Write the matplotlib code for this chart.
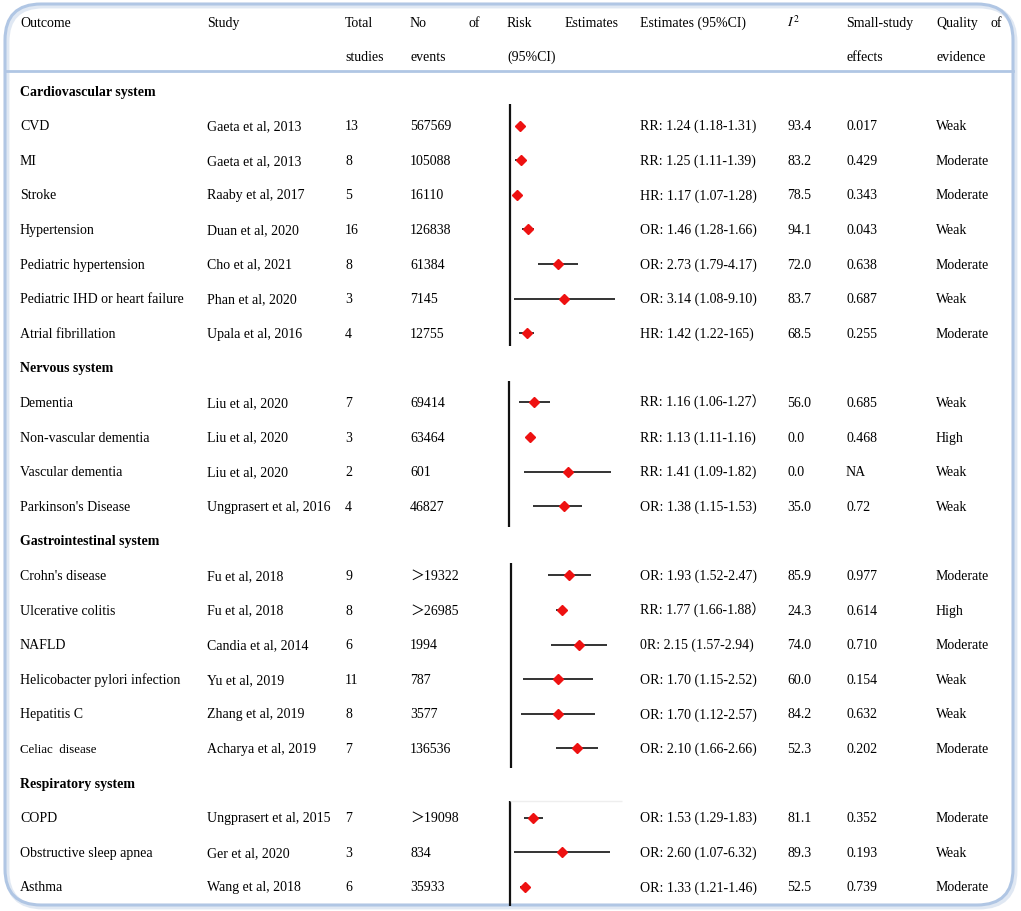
import numpy as np
import matplotlib
matplotlib.use('Agg')
import matplotlib.pyplot as plt
from matplotlib.patches import FancyBboxPatch

W, H = 1021, 911
SERIF = ['Liberation Serif', 'Noto Sans CJK SC', 'DejaVu Serif']
plt.rcParams['font.family'] = SERIF
plt.rcParams['font.size'] = 10

# ---- data ----
sections = ['Cardiovascular system', 'Nervous system',
            'Gastrointestinal system', 'Respiratory system']
section_sizes = [7, 4, 6, 3]

outcomes = ['CVD', 'MI', 'Stroke', 'Hypertension', 'Pediatric hypertension',
            'Pediatric IHD or heart failure', 'Atrial fibrillation',
            'Dementia', 'Non-vascular dementia', 'Vascular dementia',
            "Parkinson's Disease",
            "Crohn's disease", 'Ulcerative colitis', 'NAFLD',
            'Helicobacter pylori infection', 'Hepatitis C', 'Celiac  disease',
            'COPD', 'Obstructive sleep apnea', 'Asthma']
studies = ['Gaeta et al, 2013', 'Gaeta et al, 2013', 'Raaby et al, 2017',
           'Duan et al, 2020', 'Cho et al, 2021', 'Phan et al, 2020',
           'Upala et al, 2016',
           'Liu et al, 2020', 'Liu et al, 2020', 'Liu et al, 2020',
           'Ungprasert et al, 2016',
           'Fu et al, 2018', 'Fu et al, 2018', 'Candia et al, 2014',
           'Yu et al, 2019', 'Zhang et al, 2019', 'Acharya et al, 2019',
           'Ungprasert et al, 2015', 'Ger et al, 2020', 'Wang et al, 2018']
total_studies = ['13', '8', '5', '16', '8', '3', '4',
                 '7', '3', '2', '4',
                 '9', '8', '6', '11', '8', '7',
                 '7', '3', '6']
n_events = ['567569', '105088', '16110', '126838', '61384', '7145', '12755',
            '69414', '63464', '601', '46827',
            '＞19322', '＞26985', '1994', '787', '3577', '136536',
            '＞19098', '834', '35933']
est_text = ['RR: 1.24 (1.18-1.31)', 'RR: 1.25 (1.11-1.39)',
            'HR: 1.17 (1.07-1.28)', 'OR: 1.46 (1.28-1.66)',
            'OR: 2.73 (1.79-4.17)', 'OR: 3.14 (1.08-9.10)',
            'HR: 1.42 (1.22-165)',
            'RR: 1.16 (1.06-1.27）', 'RR: 1.13 (1.11-1.16)',
            'RR: 1.41 (1.09-1.82)', 'OR: 1.38 (1.15-1.53)',
            'OR: 1.93 (1.52-2.47)', 'RR: 1.77 (1.66-1.88）',
            '0R: 2.15 (1.57-2.94)', 'OR: 1.70 (1.15-2.52)',
            'OR: 1.70 (1.12-2.57)', 'OR: 2.10 (1.66-2.66)',
            'OR: 1.53 (1.29-1.83)', 'OR: 2.60 (1.07-6.32)',
            'OR: 1.33 (1.21-1.46)']
est = [1.24, 1.25, 1.17, 1.46, 2.73, 3.14, 1.42,
       1.16, 1.13, 1.41, 1.38,
       1.93, 1.77, 2.15, 1.70, 1.70, 2.10,
       1.53, 2.60, 1.33]
lower = [1.18, 1.11, 1.07, 1.28, 1.79, 1.08, 1.22,
         1.06, 1.11, 1.09, 1.15,
         1.52, 1.66, 1.57, 1.15, 1.12, 1.66,
         1.29, 1.07, 1.21]
upper = [1.31, 1.39, 1.28, 1.66, 4.17, 9.10, 1.65,
         1.27, 1.16, 1.82, 1.53,
         2.47, 1.88, 2.94, 2.52, 2.57, 2.66,
         1.83, 6.32, 1.46]
i2 = ['93.4', '83.2', '78.5', '94.1', '72.0', '83.7', '68.5',
      '56.0', '0.0', '0.0', '35.0',
      '85.9', '24.3', '74.0', '60.0', '84.2', '52.3',
      '81.1', '89.3', '52.5']
small_study = ['0.017', '0.429', '0.343', '0.043', '0.638', '0.687', '0.255',
               '0.685', '0.468', 'NA', '0.72',
               '0.977', '0.614', '0.710', '0.154', '0.632', '0.202',
               '0.352', '0.193', '0.739']
quality = ['Weak', 'Moderate', 'Moderate', 'Weak', 'Moderate', 'Weak',
           'Moderate',
           'Weak', 'High', 'Weak', 'Weak',
           'Moderate', 'High', 'Moderate', 'Weak', 'Weak', 'Moderate',
           'Moderate', 'Weak', 'Moderate']

# ---- layout (pixels) ----
col_x = [20, 207, 345, 410, 507, 640, 787, 846, 936]
row0, row_h = 91, 34.6
BASE = 4.6  # baseline offset below the row centre
# per-section forest panel: x of the null line, px per ln-unit, line extent
forest_x0 = [510, 509, 511, 510]
forest_k = [47.6, 171, 88.7, 54]
forest_span = [(104, 346), (381, 527), (563, 768), (801, 906)]
panel_left, panel_right = 500, 632

fig = plt.figure(figsize=(W / 100, H / 100), dpi=100)
ax = fig.add_axes([0, 0, 1, 1])
ax.set_xlim(0, W)
ax.set_ylim(H, 0)
ax.axis('off')

# frame
frame_col = '#b0c6e4'
shadow = FancyBboxPatch((7, 6), W - 13, H - 10,
                        boxstyle='round,pad=0,rounding_size=36',
                        fc='none', ec='#e0e8f3', lw=3.5)
ax.add_patch(shadow)
frame = FancyBboxPatch((5, 4), W - 13, H - 10,
                       boxstyle='round,pad=0,rounding_size=36',
                       fc='none', ec=frame_col, lw=2.2)
ax.add_patch(frame)
ax.plot([5, W - 8], [71, 71], color=frame_col, lw=2)

# header
hy1, hy2 = 22, 56
kw = dict(va='baseline', ha='left', fontsize=10)
ax.text(col_x[0], hy1 + BASE, 'Outcome', **kw)
ax.text(col_x[1], hy1 + BASE, 'Study', **kw)
ax.text(col_x[2], hy1 + BASE, 'Total', **kw)
ax.text(col_x[2], hy2 + BASE, 'studies', **kw)
ax.text(col_x[3], hy1 + BASE, 'No', **kw)
ax.text(468, hy1 + BASE, 'of', **kw)
ax.text(col_x[3], hy2 + BASE, 'events', **kw)
ax.text(col_x[4], hy1 + BASE, 'Risk', **kw)
ax.text(565, hy1 + BASE, 'Estimates', **kw)
ax.text(col_x[4], hy2 + BASE, '(95%CI)', **kw)
ax.text(col_x[5], hy1 + BASE, 'Estimates (95%CI)', **kw)
ax.text(col_x[6], hy1 + BASE, r'$I^2$', va='baseline', ha='left', fontsize=10,
        math_fontfamily='stix')
ax.text(col_x[7], hy1 + BASE, 'Small-study', **kw)
ax.text(col_x[7], hy2 + BASE, 'effects', **kw)
ax.text(col_x[8], hy1 + BASE, 'Quality', **kw)
ax.text(990, hy1 + BASE, 'of', **kw)
ax.text(col_x[8], hy2 + BASE, 'evidence', **kw)

# body
row = 0
idx = 0
for s, (name, n) in enumerate(zip(sections, section_sizes)):
    ax.text(col_x[0], row0 + row * row_h + BASE, name, fontweight='bold', **kw)
    row += 1

    x0, k = forest_x0[s], forest_k[s]
    fax = fig.add_axes([panel_left / W, 0, (panel_right - panel_left) / W, 1])
    fax.set_xscale('log')
    fax.set_xlim(np.exp((panel_left - x0) / k), np.exp((panel_right - x0) / k))
    fax.set_ylim(H, 0)
    fax.axis('off')
    fax.patch.set_alpha(0)
    fax.vlines(1.0, forest_span[s][0], forest_span[s][1], color='#111111',
               lw=1.6)
    if s == 3:
        fax.hlines(forest_span[s][0], 1.0, np.exp((622 - x0) / k),
                   color='#eeeeee', lw=1)

    for j in range(n):
        y = row0 + row * row_h
        yb = y + BASE
        fs = 9.3 if outcomes[idx].startswith('Celiac') else 10
        ax.text(col_x[0], yb, outcomes[idx], va='baseline', ha='left',
                fontsize=fs)
        ax.text(col_x[1], yb, studies[idx], **kw)
        ax.text(col_x[2], yb, total_studies[idx], **kw)
        ax.text(col_x[3], yb, n_events[idx], **kw)
        ax.text(col_x[5], yb, est_text[idx], **kw)
        ax.text(col_x[6], yb, i2[idx], **kw)
        ax.text(col_x[7], yb, small_study[idx], **kw)
        ax.text(col_x[8], yb, quality[idx], **kw)

        fax.hlines(y, lower[idx], upper[idx], color='#111111', lw=1.2)
        fax.plot(est[idx], y, marker='D', ms=4.6, color='#ee1111',
                 mec='#ee1111', ls='none')
        row += 1
        idx += 1

fig.savefig('out.png', dpi=100)
